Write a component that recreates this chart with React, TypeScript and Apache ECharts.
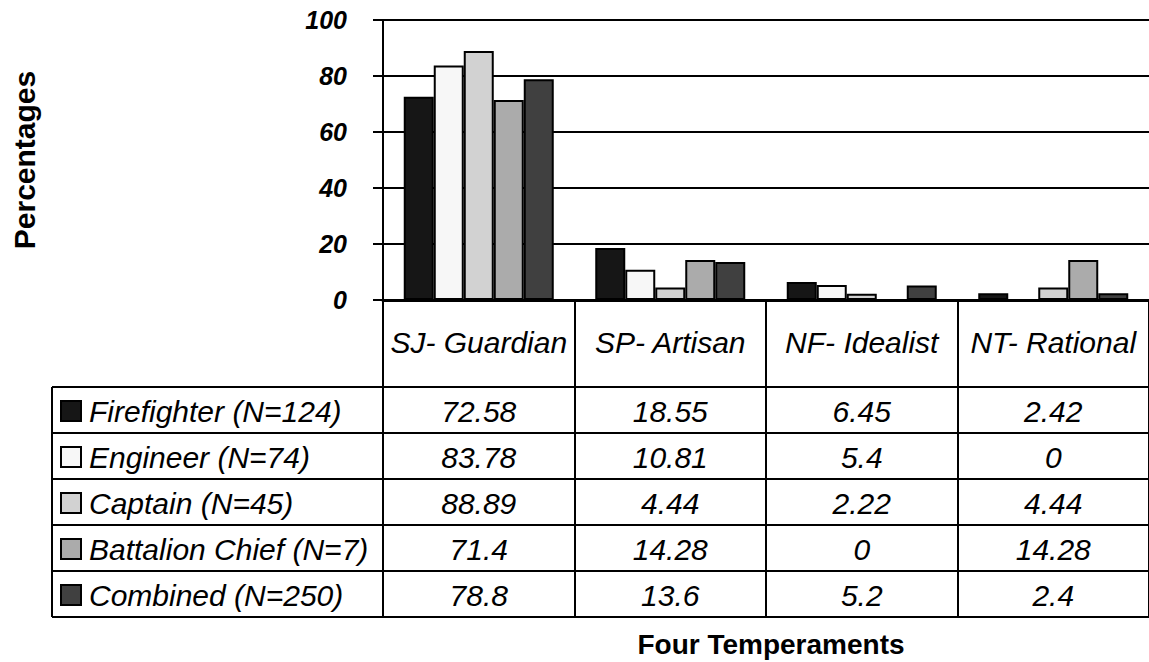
import React, { useEffect, useRef } from "react";
import * as echarts from "echarts";

const categories = ["SJ- Guardian", "SP- Artisan", "NF- Idealist", "NT- Rational"];
const seriesNames = [
  "Firefighter (N=124)",
  "Engineer (N=74)",
  "Captain (N=45)",
  "Battalion Chief (N=7)",
  "Combined (N=250)",
];
const firefighter = [72.58, 18.55, 6.45, 2.42];
const engineer = [83.78, 10.81, 5.4, 0];
const captain = [88.89, 4.44, 2.22, 4.44];
const battalionChief = [71.4, 14.28, 0, 14.28];
const combined = [78.8, 13.6, 5.2, 2.4];
const seriesValues = [firefighter, engineer, captain, battalionChief, combined];
const seriesColors = ["#161616", "#f7f7f7", "#d2d2d2", "#ababab", "#404040"];

const yMin = 0;
const yMax = 100;
const yInterval = 20;

const FONT = "'Liberation Sans', Arial, sans-serif";

export default function App() {
  const ref = useRef<HTMLDivElement>(null);

  useEffect(() => {
    if (!ref.current) return;
    const chart = echarts.init(ref.current, null, { renderer: "svg" });
    const W = 1149;
    const gridLeft = 383;
    const gridTop = 20;
    const gridHeight = 280;
    const catW = 194;
    const rowTop = 387;
    const rowH = 46;
    const tableLeft = 52;
    const tableRight = W;
    const tableBottom = rowTop + rowH * seriesNames.length;

    chart.setOption({
      animation: false,
      backgroundColor: "#ffffff",
      textStyle: { fontFamily: FONT },
      grid: {
        left: gridLeft,
        top: gridTop,
        right: W - (gridLeft + catW * categories.length),
        height: gridHeight,
        containLabel: false,
      },
      legend: {
        data: seriesNames,
        orient: "vertical",
        left: 55,
        top: rowTop + 4,
        itemWidth: 20,
        itemHeight: 20,
        itemGap: 16,
        icon: "rect",
        selectedMode: false,
        textStyle: {
          fontFamily: FONT,
          fontSize: 30,
          fontStyle: "italic",
          color: "#000",
          lineHeight: 30,
          padding: [0, 0, 0, 3],
        },
      },
      xAxis: {
        type: "category",
        data: categories,
        boundaryGap: true,
        axisLine: { show: true, lineStyle: { color: "#000", width: 3 } },
        axisTick: {
          show: true,
          interval: 0,
          inside: false,
          length: tableBottom - (gridTop + gridHeight),
          lineStyle: { color: "#000", width: 2 },
        },
        axisLabel: {
          interval: 0,
          margin: 27,
          fontFamily: FONT,
          fontSize: 30,
          fontStyle: "italic",
          color: "#000",
        },
        splitLine: { show: false },
      },
      yAxis: {
        type: "value",
        min: yMin,
        max: yMax,
        interval: yInterval,
        axisLine: { show: true, lineStyle: { color: "#000", width: 2 } },
        axisTick: { show: true, length: 10, lineStyle: { color: "#000", width: 2 } },
        axisLabel: {
          margin: 36,
          fontFamily: FONT,
          fontSize: 25,
          fontWeight: "bold",
          fontStyle: "italic",
          color: "#000",
        },
        splitLine: { show: true, lineStyle: { color: "#000", width: 2 } },
      },
      series: seriesNames.map((name, i) => ({
        name,
        type: "bar",
        data: seriesValues[i],
        barWidth: 30,
        barGap: "0%",
        itemStyle: { color: seriesColors[i], borderColor: "#000", borderWidth: 2 },
      })),
    });

    const colX = categories.map((c) => chart.convertToPixel({ xAxisIndex: 0 }, c) as number);
    const plotCenter = gridLeft + (catW * categories.length) / 2;

    const graphics: any[] = [];
    for (let r = 0; r <= seriesNames.length; r++) {
      const y = rowTop + r * rowH;
      graphics.push({
        type: "line",
        shape: { x1: tableLeft, y1: y, x2: tableRight, y2: y },
        style: { stroke: "#000", lineWidth: 2 },
      });
    }
    graphics.push({
      type: "line",
      shape: { x1: tableLeft, y1: rowTop, x2: tableLeft, y2: tableBottom },
      style: { stroke: "#000", lineWidth: 2 },
    });
    seriesValues.forEach((vals, r) => {
      vals.forEach((v, c) => {
        graphics.push({
          type: "text",
          x: colX[c],
          y: rowTop + r * rowH + rowH / 2 + 1,
          style: {
            text: String(v),
            fontFamily: FONT,
            fontSize: 30,
            fontStyle: "italic",
            fill: "#000",
            align: "center",
            verticalAlign: "middle",
          },
        });
      });
    });
    graphics.push({
      type: "text",
      x: plotCenter,
      y: 644,
      style: {
        text: "Four Temperaments",
        fontFamily: FONT,
        fontSize: 28,
        fontWeight: "bold",
        fill: "#000",
        align: "center",
        verticalAlign: "middle",
      },
    });
    graphics.push({
      type: "text",
      x: 24,
      y: 160,
      rotation: Math.PI / 2,
      style: {
        text: "Percentages",
        fontFamily: FONT,
        fontSize: 30,
        fontWeight: "bold",
        fill: "#000",
        align: "center",
        verticalAlign: "middle",
      },
    });
    chart.setOption({ graphic: graphics });

    return () => chart.dispose();
  }, []);

  return (
    <div
      ref={ref}
      style={{ position: "absolute", left: 0, top: 0, width: 1149, height: 662 }}
    />
  );
}
